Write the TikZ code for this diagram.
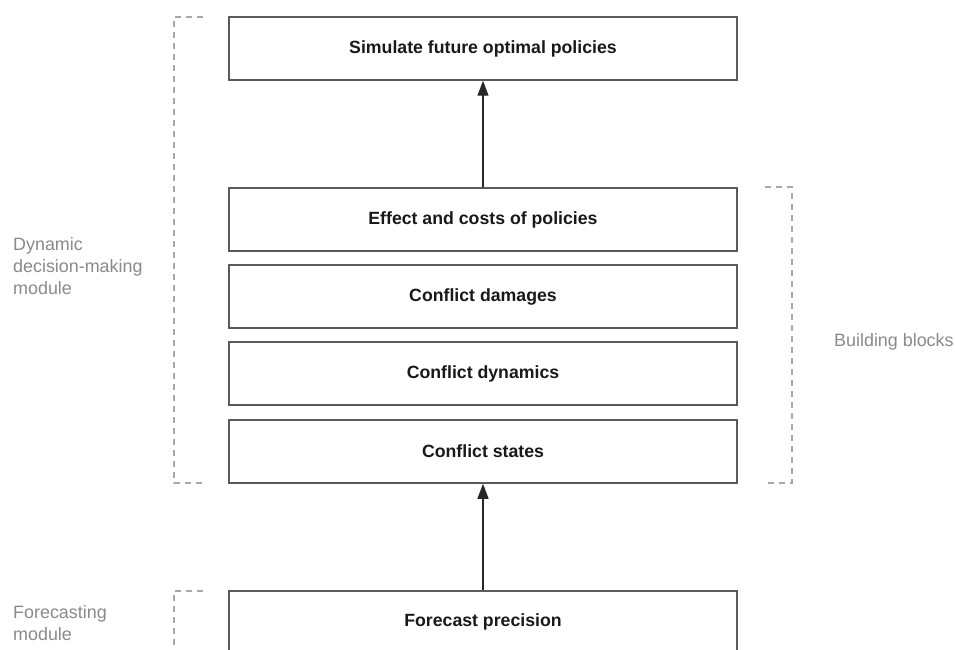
\documentclass[tikz,border=0pt]{standalone}
\usepackage{fontspec}
\setmainfont{Liberation Sans}
\usetikzlibrary{arrows.meta}
\definecolor{boxline}{HTML}{5A5A5A}
\definecolor{brk}{HTML}{A8A8A8}
\definecolor{lbl}{HTML}{8A8A8A}
\begin{document}
\begin{tikzpicture}[x=1pt,y=-1pt,
  blockbox/.style={draw=boxline,line width=1.5pt,fill=white,minimum width=508pt,minimum height=63pt,inner sep=0pt,font=\fontsize{17.7}{20}\selectfont\bfseries,text=black!90},
  bracketline/.style={draw=brk,line width=1.3pt,dash pattern=on 6pt off 5pt},
  sidelabel/.style={text=lbl,font=\fontsize{17.9}{22}\selectfont,align=left,inner sep=0pt,anchor=west},
  flow/.style={draw=black!85,line width=1.3pt,-{Triangle[length=15pt,width=11pt]}}]
\clip (0,0) rectangle (955,650);
\fill[white] (0,0) rectangle (955,650);
\node[blockbox] (sim) at (483,48.5) {Simulate future optimal policies};
\node[blockbox] (eff) at (483,219.5) {Effect and costs of policies};
\node[blockbox] (dam) at (483,296.5) {Conflict damages};
\node[blockbox] (dyn) at (483,373.5) {Conflict dynamics};
\node[blockbox] (sta) at (483,451.5) {Conflict states};
\node[blockbox,minimum height=80pt] (fc) at (483,631) {};
\node[font=\fontsize{17.7}{20}\selectfont\bfseries,text=black!90] (fct) at (483,622) {Forecast precision};
\draw[flow] (eff.north) -- (sim.south);
\draw[flow] (fc.north) -- (sta.south);
\coordinate (la) at (203,17);
\coordinate (lb) at (174,17);
\coordinate (lc) at (174,483);
\coordinate (ld) at (203,483);
\draw[bracketline] (la) -- (lb) -- (lc) -- (ld);
\coordinate (ra) at (765,187);
\coordinate (rb) at (792,187);
\coordinate (rc) at (792,483);
\coordinate (rd) at (765,483);
\draw[bracketline] (ra) -- (rb) -- (rc) -- (rd);
\coordinate (fa) at (203,591);
\coordinate (fb) at (174,591);
\coordinate (fcc) at (174,660);
\draw[bracketline] (fa) -- (fb) -- (fcc);
\node[sidelabel] (dmm) at (13,266) {Dynamic\\decision-making\\module};
\node[sidelabel] (fm) at (13,623) {Forecasting\\module};
\node[sidelabel] (bb) at (834,342) {Building blocks};
\end{tikzpicture}
\end{document}
